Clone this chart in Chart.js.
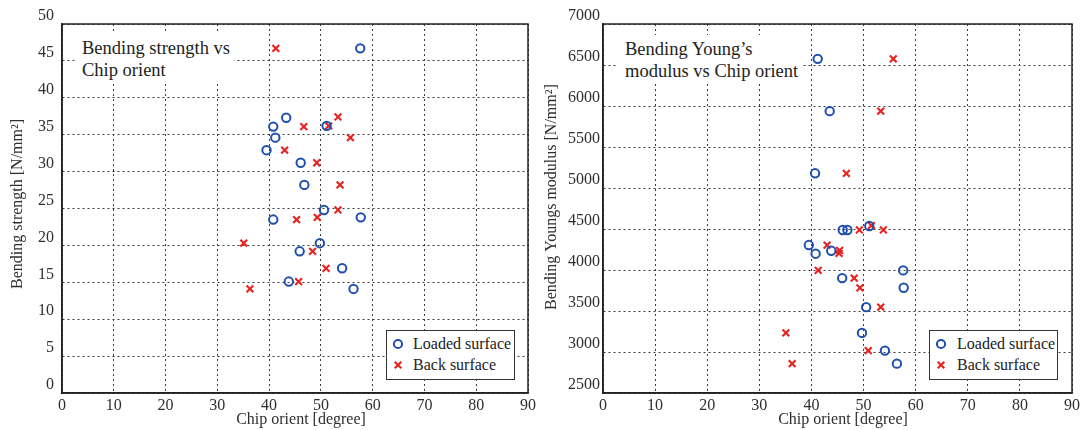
<!DOCTYPE html>
<html>
<head>
<meta charset="utf-8">
<script src="https://cdn.jsdelivr.net/npm/chart.js@4/dist/chart.umd.min.js"></script>
<style>
  html, body { margin: 0; padding: 0; background: #fff; }
  #wrap { position: relative; width: 1083px; height: 430px; overflow: hidden;
          font-family: 'Liberation Serif', 'DejaVu Serif', serif; color: #222; }
  .pane { position: absolute; top: 0; }
  .note { position: absolute; background: #fff; font-size: 18.5px; line-height: 22px;
          white-space: nowrap; box-sizing: border-box; }
  .legend { position: absolute; width: 129px; height: 50px; box-sizing: border-box;
            border: 1.5px solid #333; background: #fff; font-size: 16px; }
  .legend .mk { position: absolute; width: 12px; height: 12px; }
  .legend .tx { position: absolute; line-height: 18px; white-space: nowrap; }
</style>
</head>
<body>
<div id="wrap">
  <canvas id="left" class="pane" style="left:0" width="541" height="430"></canvas>
  <canvas id="right" class="pane" style="left:541px" width="542" height="430"></canvas>

  <div class="note" style="left:76px;top:33px;width:158px;height:49px;padding:4px 0 0 6px">Bending strength vs<br>Chip orient</div>
  <div class="note" style="left:618px;top:35px;width:184px;height:47px;padding:3px 0 0 7px">Bending Young’s<br>modulus vs Chip orient</div>

  <div class="legend" style="left:386px;top:330px">
    <svg class="mk" style="left:5px;top:7px"><circle cx="6" cy="6" r="4.1" fill="none" stroke="#1f4fae" stroke-width="2"/></svg>
    <div class="tx" style="left:26px;top:4px">Loaded surface</div>
    <svg class="mk" style="left:5px;top:28px"><path d="M2.7 2.7L9.3 9.3M9.3 2.7L2.7 9.3" stroke="#e8221e" stroke-width="2.1"/></svg>
    <div class="tx" style="left:26px;top:25px">Back surface</div>
  </div>
  <div class="legend" style="left:929px;top:330px">
    <svg class="mk" style="left:5px;top:7px"><circle cx="6" cy="6" r="4.1" fill="none" stroke="#1f4fae" stroke-width="2"/></svg>
    <div class="tx" style="left:27px;top:4px">Loaded surface</div>
    <svg class="mk" style="left:5px;top:28px"><path d="M2.7 2.7L9.3 9.3M9.3 2.7L2.7 9.3" stroke="#e8221e" stroke-width="2.1"/></svg>
    <div class="tx" style="left:27px;top:25px">Back surface</div>
  </div>
</div>
<script>
// values
const angleTicks    = [0, 10, 20, 30, 40, 50, 60, 70, 80, 90];
const strengthTicks = [0, 5, 10, 15, 20, 25, 30, 35, 40, 45, 50];
const modulusTicks  = [2500, 3000, 3500, 4000, 4500, 5000, 5500, 6000, 6500, 7000];

// left panel: bending strength [N/mm2]
const loadedAngleS  = [57.6, 43.3, 40.8, 51.1, 41.2, 39.5, 46.1, 46.8, 50.6, 40.8, 57.7, 49.8, 45.9, 54.1, 43.8, 56.3];
const loadedStrength = [46.7, 37.3, 36.1, 36.2, 34.6, 32.9, 31.2, 28.2, 24.8, 23.5, 23.8, 20.3, 19.2, 16.9, 15.1, 14.1];
const backAngleS    = [41.3, 53.3, 46.7, 51.5, 55.7, 43.0, 49.2, 53.7, 53.3, 45.3, 49.3, 35.1, 48.4, 51.0, 45.7, 36.3];
const backStrength  = [46.7, 37.4, 36.1, 36.2, 34.6, 32.9, 31.2, 28.2, 24.8, 23.5, 23.8, 20.3, 19.2, 16.9, 15.1, 14.1];

// right panel: bending Young's modulus [N/mm2]
const loadedAngleE  = [41.2, 43.5, 40.7, 51.1, 46.0, 46.9, 39.5, 40.8, 43.8, 57.6, 45.9, 57.7, 50.5, 49.7, 54.1, 56.4];
const loadedModulus = [6575, 5937, 5179, 4537, 4488, 4488, 4304, 4199, 4235, 3995, 3901, 3783, 3547, 3233, 3017, 2858];
const backAngleE    = [55.7, 53.3, 46.7, 51.5, 49.2, 53.8, 43.0, 45.3, 45.4, 41.3, 48.2, 49.3, 53.3, 35.1, 50.9, 36.3];
const backModulus   = [6575, 5937, 5179, 4541, 4488, 4488, 4304, 4203, 4239, 3995, 3901, 3783, 3547, 3233, 3017, 2858];

const BLUE = '#1f4fae';
const RED  = '#e8221e';
const FONT = 'Liberation Serif';
const TEXT = '#2e2e2e';
const GRID = '#3c3c3c';

const pairs = (xs, ys) => xs.map((x, i) => ({ x, y: ys[i] }));

// full box round the plot area (chart.js only draws the x/y axis lines)
const framePlugin = {
  id: 'frame',
  beforeDatasetsDraw(chart) {
    const { ctx, chartArea: a } = chart;
    ctx.save();
    ctx.strokeStyle = '#222';
    ctx.lineWidth = 1.5;
    ctx.strokeRect(a.left, a.top, a.right - a.left, a.bottom - a.top);
    ctx.restore();
  },
};

// axis titles sit off-centre in the original figure, so place them by hand
const titlePlugin = {
  id: 'axisTitles',
  afterDraw(chart, args, opts) {
    const ctx = chart.ctx;
    ctx.save();
    ctx.fillStyle = TEXT;
    ctx.font = `16px "${FONT}", serif`;
    ctx.textBaseline = 'middle';
    ctx.textAlign = 'center';
    ctx.fillText(opts.x.text, opts.x.cx, opts.x.cy);
    ctx.translate(opts.y.cx, opts.y.by);
    ctx.rotate(-Math.PI / 2);
    ctx.textAlign = 'left';
    ctx.fillText(opts.y.text, 0, 0);
    ctx.restore();
  },
};

function makeChart(id, cfg) {
  const fixedTicks = (list) => (s) => { s.ticks = list.map(v => ({ value: v })); };
  const tickFont = { family: FONT, size: 16 };
  return new Chart(document.getElementById(id), {
    type: 'scatter',
    data: {
      datasets: [
        { label: 'Loaded surface', data: cfg.loaded, pointStyle: 'circle', pointRadius: 4.2,
          borderColor: BLUE, backgroundColor: 'rgba(0,0,0,0)', pointBorderWidth: 2 },
        { label: 'Back surface', data: cfg.back, pointStyle: 'crossRot', pointRadius: 4.8,
          borderColor: RED, backgroundColor: RED, pointBorderWidth: 2.1 },
      ],
    },
    options: {
      responsive: false,
      animation: false,
      events: [],
      layout: { padding: { left: 0, top: 24, right: cfg.padRight, bottom: 0 } },
      plugins: {
        legend: { display: false },
        tooltip: { enabled: false },
        axisTitles: cfg.titles,
      },
      scales: {
        x: {
          type: 'linear', min: 0, max: 90,
          afterBuildTicks: fixedTicks(angleTicks),
          afterFit: (s) => { s.height = 37; },
          ticks: { color: TEXT, font: tickFont, padding: 3, maxRotation: 0, callback: (v) => String(v) },
          grid: { color: GRID, lineWidth: 1, drawTicks: false },
          border: { display: true, color: '#222', width: 1.5, dash: [2, 3] },
        },
        y: {
          type: 'linear', min: cfg.yTicks[0], max: cfg.yTicks[cfg.yTicks.length - 1],
          afterBuildTicks: fixedTicks(cfg.yTicks),
          afterFit: (s) => { s.width = 62; },
          ticks: { color: TEXT, font: tickFont, padding: cfg.yPad, labelOffset: -8, callback: (v) => String(v) },
          grid: { color: GRID, lineWidth: 1, drawTicks: false },
          border: { display: true, color: '#222', width: 1.5, dash: [2, 3] },
        },
      },
    },
    plugins: [framePlugin, titlePlugin],
  });
}

makeChart('left', {
  loaded: pairs(loadedAngleS, loadedStrength),
  back: pairs(backAngleS, backStrength),
  yTicks: strengthTicks,
  yPad: 8,
  padRight: 13,
  titles: {
    x: { text: 'Chip orient [degree]', cx: 301, cy: 420 },
    y: { text: 'Bending strength [N/mm²]', cx: 18, by: 289 },
  },
});

makeChart('right', {
  loaded: pairs(loadedAngleE, loadedModulus),
  back: pairs(backAngleE, backModulus),
  yTicks: modulusTicks,
  yPad: 3,
  padRight: 11,
  titles: {
    x: { text: 'Chip orient [degree]', cx: 302, cy: 420 },
    y: { text: 'Bending Youngs modulus [N/mm²]', cx: 11, by: 310 },
  },
});
</script>
</body>
</html>
